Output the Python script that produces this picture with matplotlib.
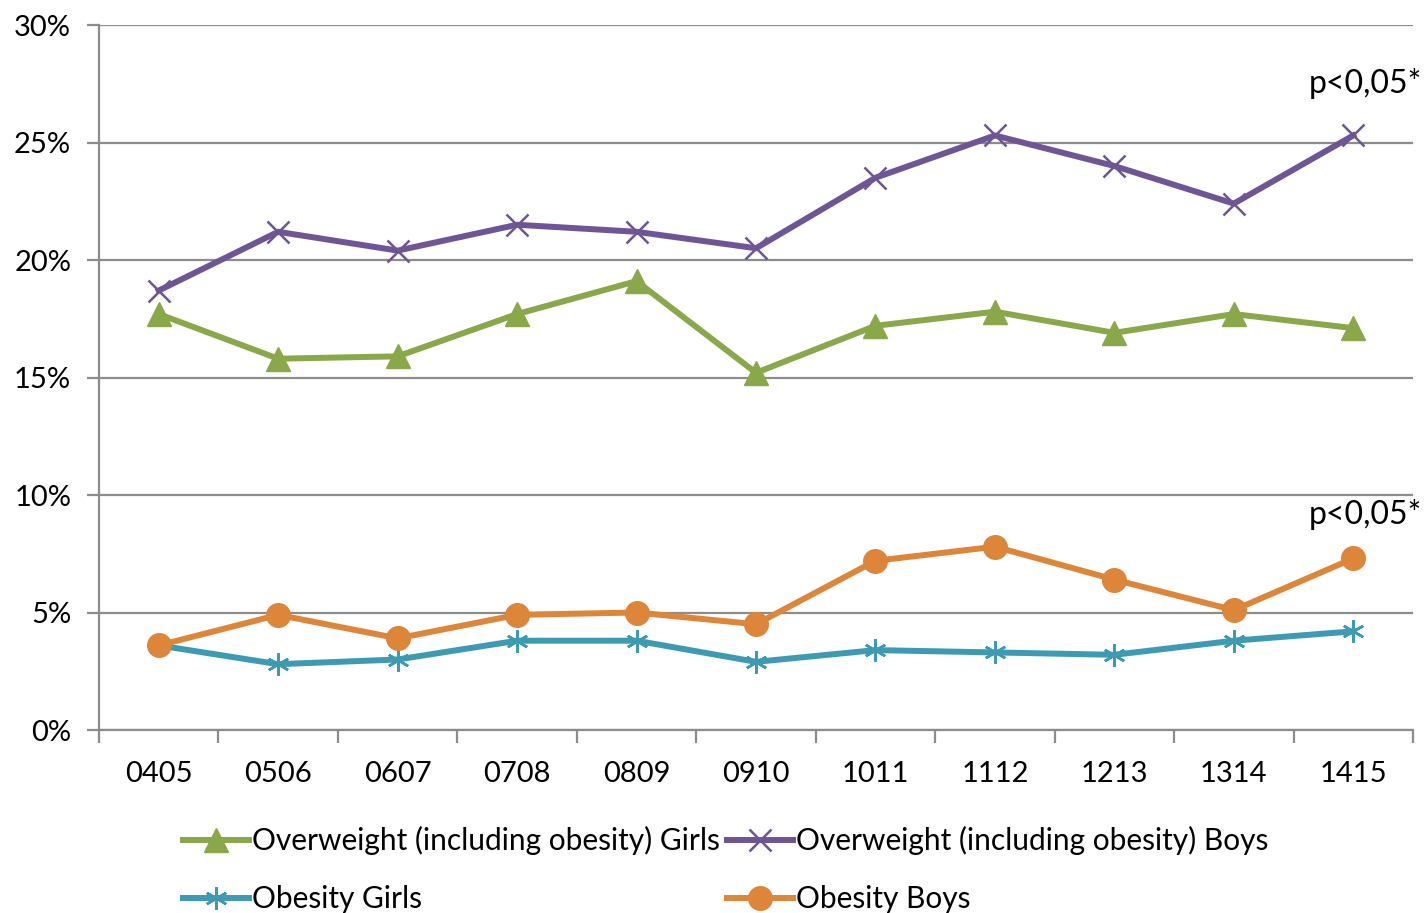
import matplotlib.pyplot as plt
from matplotlib.ticker import FixedLocator, PercentFormatter
import numpy as np

plt.rcParams['font.family'] = ['Lato', 'DejaVu Sans']

years = ['0405', '0506', '0607', '0708', '0809', '0910', '1011', '1112', '1213', '1314', '1415']
ow_girls = [17.7, 15.8, 15.9, 17.7, 19.1, 15.2, 17.2, 17.8, 16.9, 17.7, 17.1]
ow_boys = [18.7, 21.2, 20.4, 21.5, 21.2, 20.5, 23.5, 25.3, 24.0, 22.4, 25.3]
ob_girls = [3.6, 2.8, 3.0, 3.8, 3.8, 2.9, 3.4, 3.3, 3.2, 3.8, 4.2]
ob_boys = [3.6, 4.9, 3.9, 4.9, 5.0, 4.5, 7.2, 7.8, 6.4, 5.1, 7.3]

c_green = '#88a84a'
c_purple = '#6e5596'
c_teal = '#3d9ab3'
c_orange = '#dd8539'
grid_c = '#8c8c8c'

fig = plt.figure(figsize=(14.28, 9.13), dpi=100)
ax = fig.add_axes([99/1428, 1 - 730/913, (1413-99)/1428, (730-25)/913])

x = np.arange(len(years))
lw = 4.3
h1, = ax.plot(x, ow_girls, color=c_green, lw=lw, marker='^', ms=17, label='Overweight (including obesity) Girls', zorder=3)
h2, = ax.plot(x, ow_boys, color=c_purple, lw=lw, marker='x', ms=16, mew=1.8, label='Overweight (including obesity) Boys', zorder=3)
h3, = ax.plot(x, ob_girls, color=c_teal, lw=lw, marker=(6, 2, 0), ms=16, mew=1.8, label='Obesity Girls', zorder=3)
h4, = ax.plot(x, ob_boys, color=c_orange, lw=lw, marker='o', ms=17, label='Obesity Boys', zorder=3)

ax.set_xlim(-0.5, len(years) - 0.5)
ax.set_ylim(0, 30)
ax.yaxis.set_major_locator(FixedLocator([0, 5, 10, 15, 20, 25, 30]))
ax.yaxis.set_major_formatter(PercentFormatter(decimals=0))
ax.grid(axis='y', color=grid_c, lw=1.6)
ax.set_axisbelow(True)

ax.set_xticks(np.arange(-0.5, len(years), 1.0))
ax.set_xticklabels([])
ax.set_xticks(x, minor=True)
ax.set_xticklabels(years, minor=True)
ax.tick_params(axis='x', which='major', length=9, width=1.6, color=grid_c)
ax.tick_params(axis='x', which='minor', length=0, labelsize=21, pad=22)
ax.tick_params(axis='y', length=9, width=1.6, color=grid_c, labelsize=21, pad=11)

for s in ['top', 'right']:
    ax.spines[s].set_visible(False)
for s in ['left', 'bottom']:
    ax.spines[s].set_color(grid_c)
    ax.spines[s].set_linewidth(1.6)

ax.text(10.1, 27.5, 'p<0,05*', fontsize=23, ha='center', va='center')
ax.text(10.1, 9.15, 'p<0,05*', fontsize=23, ha='center', va='center')

fig.legend(handles=[h1, h3, h2, h4], loc='upper left', bbox_to_anchor=(183/1428, 1 - 826/913),
           ncol=2, frameon=False, fontsize=21.5, handlelength=2.2, handletextpad=0.1,
           columnspacing=0.25, labelspacing=1.0, borderaxespad=0, borderpad=0)

fig.savefig('out.png', dpi=100)
